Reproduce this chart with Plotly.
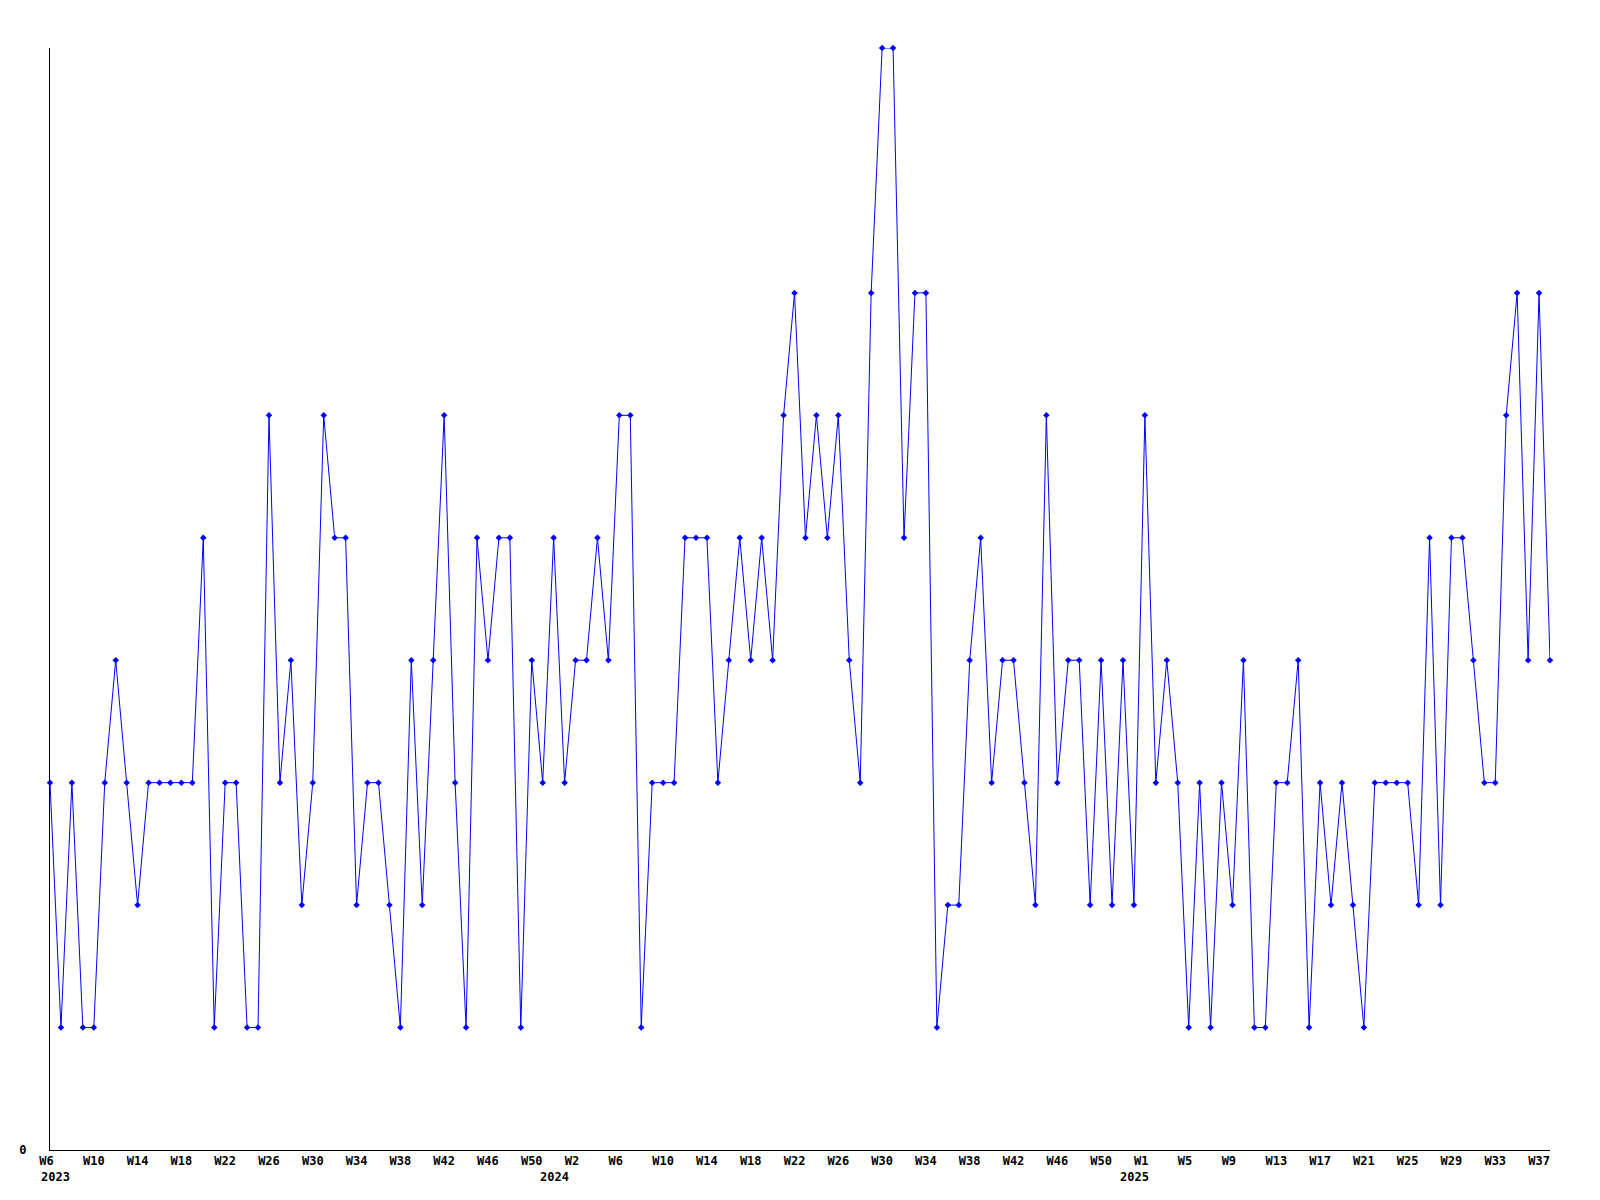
import plotly.graph_objects as go

# ---- data ----
years = [2023, 2024, 2025]
first_week = [6, 1, 1]
last_week = [52, 53, 38]

values_2023 = [3, 1, 3, 1, 1, 3, 4, 3, 2, 3, 3, 3, 3, 3, 5, 1, 3, 3, 1, 1, 6, 3, 4, 2,
               3, 6, 5, 5, 2, 3, 3, 2, 1, 4, 2, 4, 6, 3, 1, 5, 4, 5, 5, 1, 4, 3, 5]
values_2024 = [3, 4, 4, 5, 4, 6, 6, 1, 3, 3, 3, 5, 5, 5, 3, 4, 5, 4, 5, 4, 6, 7, 5, 6,
               5, 6, 4, 3, 7, 9, 9, 5, 7, 7, 1, 2, 2, 4, 5, 3, 4, 4, 3, 2, 6, 3, 4, 4,
               2, 4, 2, 4, 2]
values_2025 = [6, 3, 4, 3, 1, 3, 1, 3, 2, 4, 1, 1, 3, 3, 4, 1, 3, 2, 3, 2, 1, 3, 3, 3,
               3, 2, 5, 2, 5, 5, 4, 3, 3, 6, 7, 4, 7, 4]

tick_every = 4

# ---- build series ----
weeks = []
for y, w0, w1 in zip(years, first_week, last_week):
    for w in range(w0, w1 + 1):
        weeks.append((y, w))
values = values_2023 + values_2024 + values_2025
xs = list(range(len(values)))

tickvals = list(range(0, len(weeks), tick_every))
ticktext = []
for i in tickvals:
    lab = f"W{weeks[i][1]}"
    lab = lab + "\u00a0" * (3 - len(lab))
    ticktext.append(lab)

font_family = "DejaVu Sans Mono"
label_font = dict(family=font_family, size=12, color="black", weight="bold")

fig = go.Figure()
fig.add_trace(go.Scatter(
    x=xs, y=values, mode="lines+markers",
    line=dict(color="#0000FF", width=1),
    marker=dict(symbol="diamond", size=5, color="#0000FF"),
    cliponaxis=False,
    hoverinfo="skip",
))

annotations = []
for k, y in enumerate(years):
    idx = weeks.index((y, first_week[k]))
    if idx == 0:
        annotations.append(dict(x=idx, xref="x", y=-0.0245, yref="paper",
                                text=str(y), showarrow=False, xanchor="left",
                                yanchor="middle", xshift=-11, font=label_font))
    else:
        annotations.append(dict(x=idx, xref="x", y=-0.0245, yref="paper",
                                text=str(y), showarrow=False, xanchor="right",
                                yanchor="middle", xshift=6, font=label_font))

fig.update_layout(
    width=1600, height=1200,
    margin=dict(l=42, r=58, t=40, b=58, autoexpand=False),
    paper_bgcolor="white", plot_bgcolor="white",
    showlegend=False,
    annotations=annotations,
)
fig.update_xaxes(
    range=[0, len(values) - 1],
    showline=True, linecolor="black", linewidth=1,
    showgrid=False, zeroline=False,
    tickvals=tickvals, ticktext=ticktext, ticks="",
    tickangle=0,
    tickfont=label_font,
)
fig.update_yaxes(
    range=[0, 9],
    showline=True, linecolor="black", linewidth=1,
    showgrid=False, zeroline=False,
    tickvals=[0], ticktext=["0"], ticks="",
    ticklabelstandoff=20,
    tickfont=label_font,
)

fig.write_html("out.html")
